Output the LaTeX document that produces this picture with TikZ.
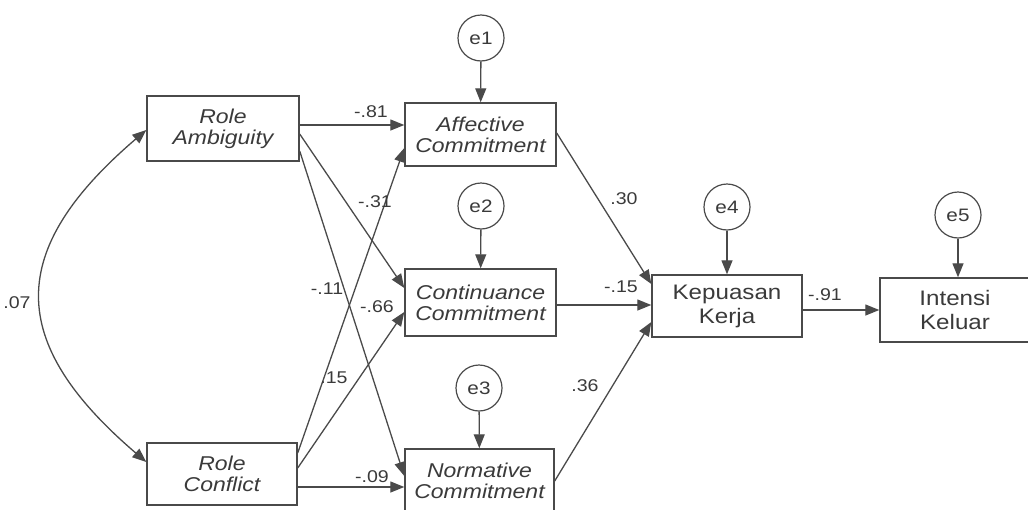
\documentclass[tikz,border=0pt]{standalone}
\usepackage{fontspec}
\setmainfont{Liberation Sans}[FakeStretch=1.15]
\usetikzlibrary{arrows.meta,calc}
\definecolor{ln}{HTML}{4A4A4A}
\definecolor{tx}{HTML}{3A3A3A}
\begin{document}
\begin{tikzpicture}[x=1pt,y=-1pt,
  box/.style={draw=ln,line width=1.4pt,align=center,inner sep=0pt,text=tx,
    font=\fontsize{21}{24}\selectfont},
  ibox/.style={box,font=\fontsize{20}{21}\selectfont\itshape},
  err/.style={draw=ln,line width=1.2pt,circle,minimum size=46pt,inner sep=0pt,text=tx,
    font=\fontsize{18}{20}\selectfont},
  lab/.style={inner sep=0pt,text=tx,font=\fontsize{17}{19}\selectfont},
  arr/.style={draw=ln,line width=1.3pt,-{Triangle[length=14pt,width=11pt]}},
  darr/.style={draw=ln,line width=1.3pt,{Triangle[length=14pt,width=11pt]}-{Triangle[length=14pt,width=11pt]}}
]
\useasboundingbox (0,0) rectangle (1028,509);
% boxes
\node[ibox,minimum width=152pt,minimum height=65pt] (RA) at (223,128.5) {Role\\Ambiguity};
\node[ibox,minimum width=150pt,minimum height=62pt] (RC) at (222,474) {Role\\Conflict};
\node[ibox,minimum width=151pt,minimum height=63pt] (AC) at (480.5,134.5) {Affective\\Commitment};
\node[ibox,minimum width=151pt,minimum height=67pt] (CC) at (480.5,302.5) {Continuance\\Commitment};
\node[ibox,minimum width=149pt,minimum height=64pt] (NC) at (479.5,481) {Normative\\Commitment};
\node[box,minimum width=150pt,minimum height=62pt] (KK) at (727,306) {Kepuasan\\Kerja};
\node[box,minimum width=150pt,minimum height=64pt] (IK) at (955,310) {Intensi\\Keluar};
% errors
\node[err] (e1) at (481,38) {e1};
\node[err] (e2) at (481,206) {e2};
\node[err] (e3) at (479,388) {e3};
\node[err] (e4) at (727,207) {e4};
\node[err] (e5) at (958,215) {e5};
% error arrows
\draw[arr] (e1) -- (AC);
\draw[arr] (e2) -- (CC);
\draw[arr] (e3) -- (NC);
\draw[arr] (e4) -- (KK);
\draw[arr] (e5) -- (e5 |- IK.north);
% paths
\draw[arr] ($(RA.east)+(0,-3.5)$) -- ($(AC.west)+(0,-9.5)$);
\draw[arr] ($(RA.east)+(0,5.5)$) -- ($(CC.west)+(0,-14.5)$);
\draw[arr] ($(RA.east)+(0,22.5)$) -- ($(NC.west)+(0,-5)$);
\draw[arr] ($(RC.east)+(0,-21)$) -- ($(AC.west)+(0,13.5)$);
\draw[arr] ($(RC.east)+(0,-6)$) -- ($(CC.west)+(0,9.5)$);
\draw[arr] ($(RC.east)+(0,13)$) -- ($(NC.west)+(0,6)$);
\draw[arr] ($(AC.east)+(0,-1.5)$) -- ($(KK.west)+(0,-22)$);
\draw[arr] ($(CC.east)+(0,2.5)$) -- ($(KK.west)+(0,-1)$);
\draw[arr] (NC.east) -- ($(KK.west)+(0,16)$);
\draw[arr] ($(KK.east)+(0,4)$) -- (IK.west);
% covariance
\draw[darr] ($(RA.west)+(0,1.5)$) .. controls (6,250) and (6,342) .. ($(RC.west)+(0,-12)$);
% labels
\node[lab] (l1) at (371,112) {-.81};
\node[lab] (l2) at (375,202) {-.31};
\node[lab] (l3) at (327,289) {-.11};
\node[lab] (l4) at (377,307) {-.66};
\node[lab] (l5) at (334,378) {.15};
\node[lab] (l6) at (372,477) {-.09};
\node[lab] (l7) at (624,199) {.30};
\node[lab] (l8) at (621,287) {-.15};
\node[lab] (l9) at (585,386) {.36};
\node[lab] (l10) at (825,295) {-.91};
\node[lab] (l11) at (17,303) {.07};
\end{tikzpicture}
\end{document}
